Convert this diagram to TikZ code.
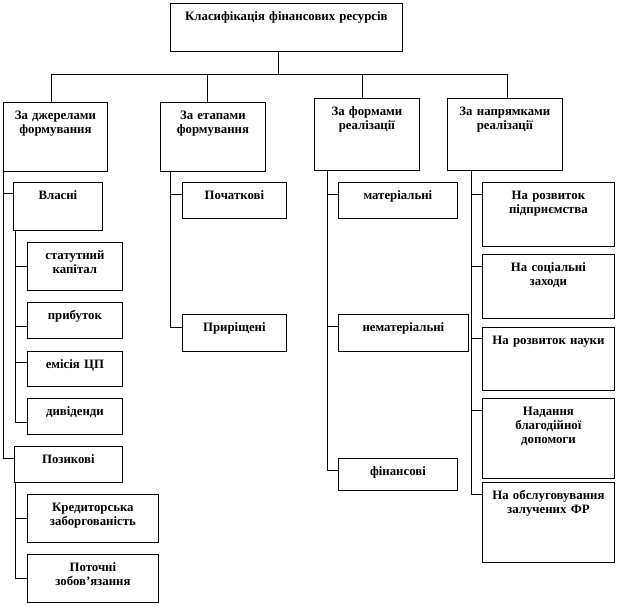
\documentclass[tikz,border=0pt]{standalone}
\usepackage{fontspec}
\setmainfont{Liberation Serif}
\begin{document}
\begin{tikzpicture}[x=1pt,y=-1pt]
            \tikzset{box/.style = {draw, line width=0.8pt, inner sep=0pt, anchor=north west, align=center, text height=17pt, font=\bfseries\fontsize{12.8}{14}\selectfont}}
            \tikzset{edge/.style = {-, line width=0.8pt}}
            \useasboundingbox (0,0) rectangle (618,606);

            % top and first level
            \node[box, text width=232pt, text depth=31pt] (top) at (170,3) {Класифікація фінансових ресурсів};
            \node[box, text width=104pt, text depth=52pt] (A) at (3,102) {За джерелами\\формування};
            \node[box, text width=105pt, text depth=52pt] (B) at (160,102) {За етапами\\формування};
            \node[box, text width=105pt, text depth=55pt] (C) at (314,98) {За формами\\реалізації};
            \node[box, text width=115pt, text depth=55pt] (D) at (447,98) {За напрямками\\реалізації};

            % by source
            \node[box, text width=89pt, text depth=31pt] (vl) at (13,182) {Власні};
            \node[box, text width=95pt, text depth=31pt] (st) at (27,242) {статутний\\капітал};
            \node[box, text width=95pt, text depth=19pt] (pr) at (27,302) {прибуток};
            \node[box, text width=95pt, text depth=18pt] (ec) at (27,351) {емісія ЦП};
            \node[box, text width=95pt, text depth=19pt] (dv) at (27,398) {дивіденди};
            \node[box, text width=108pt, text depth=19pt] (pz) at (14,446) {Позикові};
            \node[box, text width=131pt, text depth=31pt] (kr) at (27,494) {Кредиторська\\заборгованість};
            \node[box, text width=131pt, text depth=31pt] (pj) at (27,554) {Поточні\\зобов’язання};

            % by stage
            \node[box, text width=104pt, text depth=19pt] (pc) at (182,182) {Початкові};
            \node[box, text width=104pt, text depth=20pt] (pq) at (182,314) {Приріщені};

            % by form
            \node[box, text width=119pt, text depth=19pt] (mt) at (338,182) {матеріальні};
            \node[box, text width=130pt, text depth=20pt] (nm) at (338,314) {нематеріальні};
            \node[box, text width=119pt, text depth=15pt] (fn) at (338,458) {фінансові};

            % by direction
            \node[box, text width=132pt, text depth=47pt] (rp) at (482,182) {На розвиток\\підприємства};
            \node[box, text width=132pt, text depth=47pt] (sz) at (482,254) {На соціальні\\заходи};
            \node[box, text width=132pt, text depth=46pt] (rn) at (482,327) {На розвиток науки};
            \node[box, text width=132pt, text depth=63pt] (bd) at (482,398) {Надання\\благодійної\\допомоги};
            \node[box, text width=132pt, text depth=63pt] (oz) at (482,482) {На обслуговування\\залучених ФР};

            % edges
            \coordinate (bus) at (278,74);
            \draw[edge] (top.south -| bus) -- (bus);
            \foreach \b/\x in {A/51,B/207,C/362,D/507}
            {
              \coordinate (bus\b) at (\x,74);
              \draw[edge] (bus\b) -- (bus\b |- \b.north);
            }
            \draw[edge] (busA) -- (busD);
            \foreach \p/\dx/\c/\o in {A/0/vl/11, A/0/pz/12, vl/2/st/24, vl/2/pr/24, vl/2/ec/11, vl/2/dv/24, pz/1/kr/24, pz/1/pj/24, B/10/pc/12, B/10/pq/13, C/13/mt/12, C/13/nm/12, C/13/fn/12, D/24/rp/12, D/24/sz/12, D/24/rn/11, D/24/bd/12, D/24/oz/12}
            {
              \draw[edge] ([xshift=\dx pt]\p.south west) |- ([yshift=-\o pt]\c.north west);
            }
            
          \end{tikzpicture}
\end{document}
